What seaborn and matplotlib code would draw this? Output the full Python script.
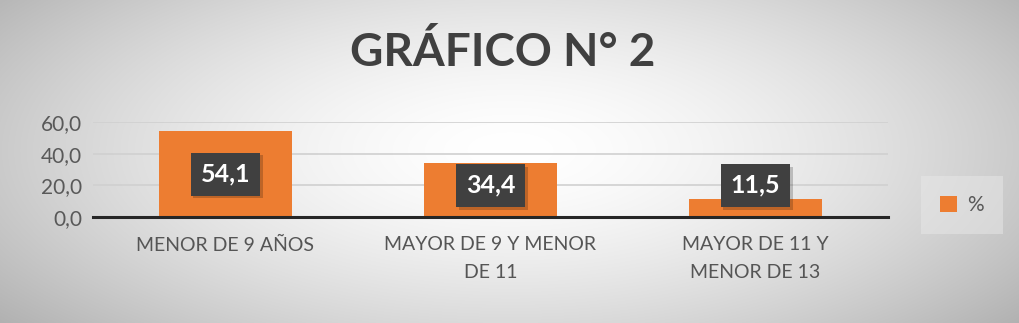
import numpy as np
import matplotlib
matplotlib.use("Agg")
import matplotlib.pyplot as plt
import matplotlib.patheffects as pe
from matplotlib.patches import Patch
import seaborn as sns

categories = ["MENOR DE 9 AÑOS", "MAYOR DE 9 Y MENOR\nDE 11", "MAYOR DE 11 Y\nMENOR DE 13"]
values = [54.1, 34.4, 11.5]
labels = ["54,1", "34,4", "11,5"]
yticks = [0, 20, 40, 60]
ytick_labels = ["0,0", "20,0", "40,0", "60,0"]
title = "GRÁFICO N° 2"
series_name = "%"

sns.set_theme(style="white")
plt.rcParams["font.family"] = ["Lato", "DejaVu Sans"]

orange = "#ED7D31"
gray_txt = "#595959"

fig = plt.figure(figsize=(10.2, 3.23), dpi=100)

# radial gradient background
bg = fig.add_axes([0, 0, 1, 1], zorder=-10)
yy, xx = np.mgrid[0:323, 0:1020]
r = np.sqrt(((xx - 510) / 620.0) ** 2 + ((yy - 150) / 260.0) ** 2)
g = np.clip(1.0 - 0.28 * r ** 1.6, 0, 1)
bg.imshow(np.dstack([g, g, g]), aspect="auto", extent=[0, 1, 0, 1], origin="upper")
bg.set_axis_off()

ax = fig.add_axes([93 / 1020, 106 / 323, 795 / 1020, 95 / 323])
ax.set_facecolor("none")
sns.barplot(x=categories, y=values, color=orange, width=0.5, ax=ax, saturation=1,
            linewidth=0, edgecolor="none", zorder=3)

ax.set_xlim(-0.5, len(categories) - 0.5)
ax.set_ylim(0, 60)
ax.set_yticks(yticks)
ax.set_yticklabels(ytick_labels, fontsize=15, color=gray_txt)
ax.yaxis.grid(True, color="#d0d0d0", linewidth=1.2, zorder=0)
ax.set_axisbelow(True)
for s in ["left", "top", "right"]:
    ax.spines[s].set_visible(False)
ax.spines["bottom"].set_color("#262626")
ax.spines["bottom"].set_linewidth(2.2)
ax.spines["bottom"].set_zorder(5)
ax.tick_params(axis="y", length=0, pad=8)
ax.set_xticks(range(len(categories)))
ax.set_xticklabels(categories, fontsize=14, color="#555555", linespacing=1.75)
ax.tick_params(axis="x", which="major", length=0, pad=14)
ax.set_xticks(np.arange(-0.5, len(categories)), minor=True)
ax.tick_params(axis="x", which="minor", length=6, width=2.2, color="#262626", direction="out")
ax.set_xlabel("")
ax.set_ylabel("")

for i, (v, lab) in enumerate(zip(values, labels)):
    t = ax.text(i, max(v / 2, 20), lab, ha="center", va="center", fontsize=18,
                fontweight="bold", color="white", zorder=6,
                bbox=dict(boxstyle="square,pad=0.4", fc="#404040", ec="none"))
    t.get_bbox_patch().set_path_effects([pe.withSimplePatchShadow(offset=(2, -2), shadow_rgbFace="black", alpha=0.2)])

fig.text(0.493, 1 - 53 / 323, title, ha="center", va="center", fontsize=33,
         fontweight="bold", color="#404040")

handle = Patch(facecolor=orange, edgecolor="none", label=series_name)
leg = fig.legend(handles=[handle], loc="center", bbox_to_anchor=(962 / 1020, 1 - 205 / 323),
                 frameon=True, fontsize=15, handlelength=0.8, handleheight=0.8,
                 handletextpad=0.5, borderpad=0.9, fancybox=False)
leg.get_frame().set_facecolor("#e8e8e8")
leg.get_frame().set_edgecolor("none")
leg.get_frame().set_alpha(0.5)
for txt in leg.get_texts():
    txt.set_color(gray_txt)

fig.savefig("out.png", dpi=100)
